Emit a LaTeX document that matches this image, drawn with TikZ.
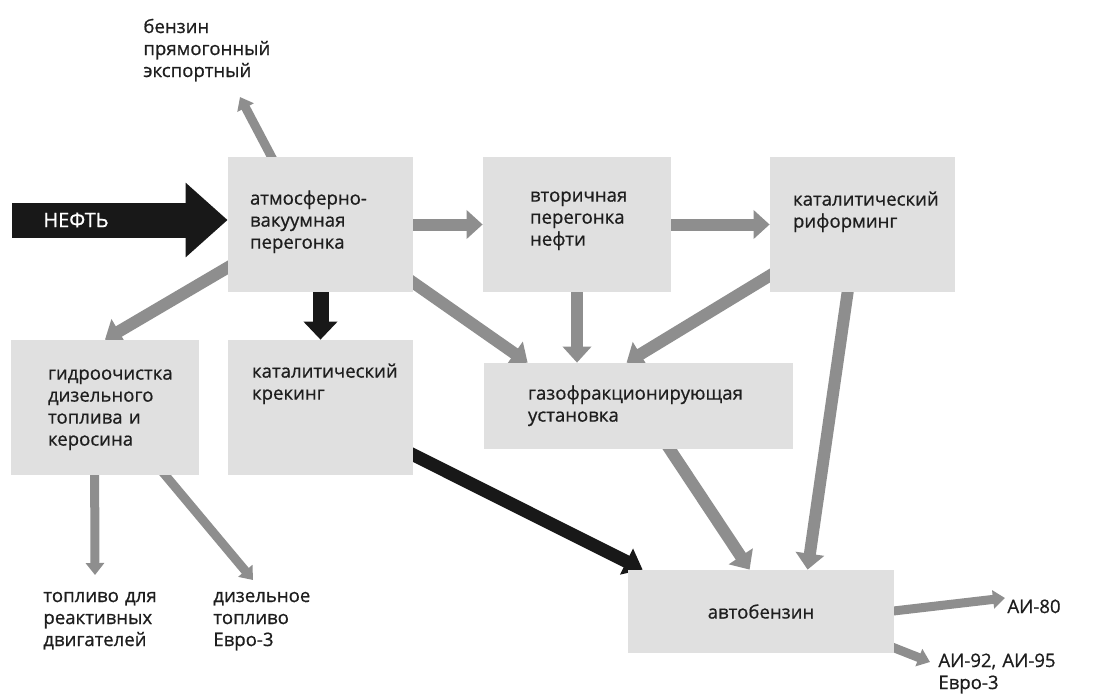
\documentclass[tikz,border=0pt]{standalone}
\usepackage{fontspec}
\setmainfont{Open Sans}[FakeBold=0.7]
\usetikzlibrary{arrows.meta,backgrounds,calc,positioning}
\definecolor{boxgray}{RGB}{224,224,224}
\definecolor{flowgray}{RGB}{142,142,142}
\definecolor{flowblack}{RGB}{24,24,24}
\definecolor{inkgray}{RGB}{30,30,30}

\begin{document}
\begin{tikzpicture}[
  x=0.5pt, y=-0.5pt,
  font=\fontsize{9.3}{11}\selectfont, text=inkgray,
  stage/.style={fill=boxgray, inner sep=0pt},
  stagetext/.style={anchor=base west, align=left, text width=110pt, inner sep=0pt},
  flow/.style={draw=flowgray, line width=6pt, -{Triangle[width=14pt,length=8pt]}},
  thinflow/.style={draw=flowgray, line width=4.5pt, -{Triangle[width=9pt,length=6pt]}},
  mainflow/.style={draw=flowblack, line width=8pt, -{Triangle[width=16.5pt,length=9pt]}},
  crude/.style={draw=flowblack, line width=17.5pt, -{Triangle[width=36pt,length=21pt]}}
]
\path[use as bounding box] (0,0) rectangle (1118,693);

% process units
\node[stage, minimum width=92.5pt, minimum height=67.5pt] (atm) at (320.5,224.5) {};
\node[stage, minimum width=94pt, minimum height=67.5pt] (vtor) at (577,224.5) {};
\node[stage, minimum width=92.5pt, minimum height=67.5pt] (rif) at (862.5,224.5) {};
\node[stage, minimum width=94pt, minimum height=67.5pt] (hydro) at (105,407.5) {};
\node[stage, minimum width=92.5pt, minimum height=67.5pt] (crack) at (320.5,407.5) {};
\node[stage, minimum width=154.5pt, minimum height=43pt] (gas) at (638.5,406) {};
\node[stage, minimum width=133pt, minimum height=41.5pt] (auto) at (761,611.5) {автобензин};

\node[stagetext] (atm-t) at ($(atm.north west)+(22,48)$) {атмосферно-\\вакуумная\\перегонка};
\node[stagetext] (vtor-t) at ($(vtor.north west)+(47,45)$) {вторичная\\перегонка\\нефти};
\node[stagetext] (rif-t) at ($(rif.north west)+(23,49)$) {каталитический\\риформинг};
\node[stagetext] (hydro-t) at ($(hydro.north west)+(37,40)$) {гидроочистка\\дизельного\\топлива и\\керосина};
\node[stagetext] (crack-t) at ($(crack.north west)+(24,38)$) {каталитический\\крекинг};
\node[stagetext] (gas-t) at ($(gas.north west)+(44,37)$) {газофракционирующая\\установка};

% products
\node[stagetext] (benz) at (143,33) {бензин\\прямогонный\\экспортный};
\node[stagetext] (jet) at (43,602) {топливо для\\реактивных\\двигателей};
\node[stagetext] (diesel) at (213,602) {дизельное\\топливо\\Евро-3};
\node[stagetext] (ai80) at (1007,613) {АИ-80};
\node[stagetext] (ai92) at (938,667) {АИ-92, АИ-95\\Евро-3};

% crude oil input
\coordinate (crudein) at (12,220);
\draw[crude] (crudein) -- (crudein -| atm.west);
\node[anchor=west, text=white, font=\fontsize{10}{12}\selectfont, inner sep=0pt] (neft) at (43,220) {НЕФТЬ};

\begin{scope}[on background layer]
\fill[white] (0,0) rectangle (1118,693);
\draw[thinflow] ($(atm.north west)+(48,8)$) -- ($(benz.base west)+(97,64)$);
\draw[flow] (atm.east) -- (vtor.west);
\draw[flow] (vtor.east) -- (rif.west);
\draw[flow] ($(atm.north west)+(17,101)$) -- (hydro.north);
\draw[mainflow] (atm.south) -- (crack.north);
\draw[flow] ($(atm.north east)+(-13,117)$) -- ($(gas.north west)+(44,0)$);
\draw[flow] (vtor.south) -- (vtor.south |- gas.north);
\draw[flow] ($(rif.north west)+(15,110)$) -- ($(gas.north west)+(143,0)$);
\draw[flow] ($(rif.south west)+(79,-7)$) -- ($(auto.north west)+(180,0)$);
\draw[flow] ($(gas.south west)+(181,-8)$) -- ($(auto.north west)+(122,0)$);
\draw[mainflow, line width=6.5pt, -{Triangle[width=14pt,length=9pt]}]
  ($(crack.south east)+(-13,-27)$) -- ($(auto.north west)+(15,0)$);
\draw[thinflow] ($(hydro.south west)+(84,-8)$) -- ($(jet.base west)+(52,-27)$);
\draw[thinflow] ($(hydro.south west)+(149,-7)$) -- ($(diesel.base west)+(40,-22)$);
\draw[thinflow] ($(auto.east)+(-14,1)$) -- ($(ai80.base west)+(-2,-15)$);
\draw[thinflow] ($(auto.south east)+(-14,-11)$) -- ($(ai92.base west)+(-8,-5)$);
\end{scope}
\end{tikzpicture}
\end{document}
